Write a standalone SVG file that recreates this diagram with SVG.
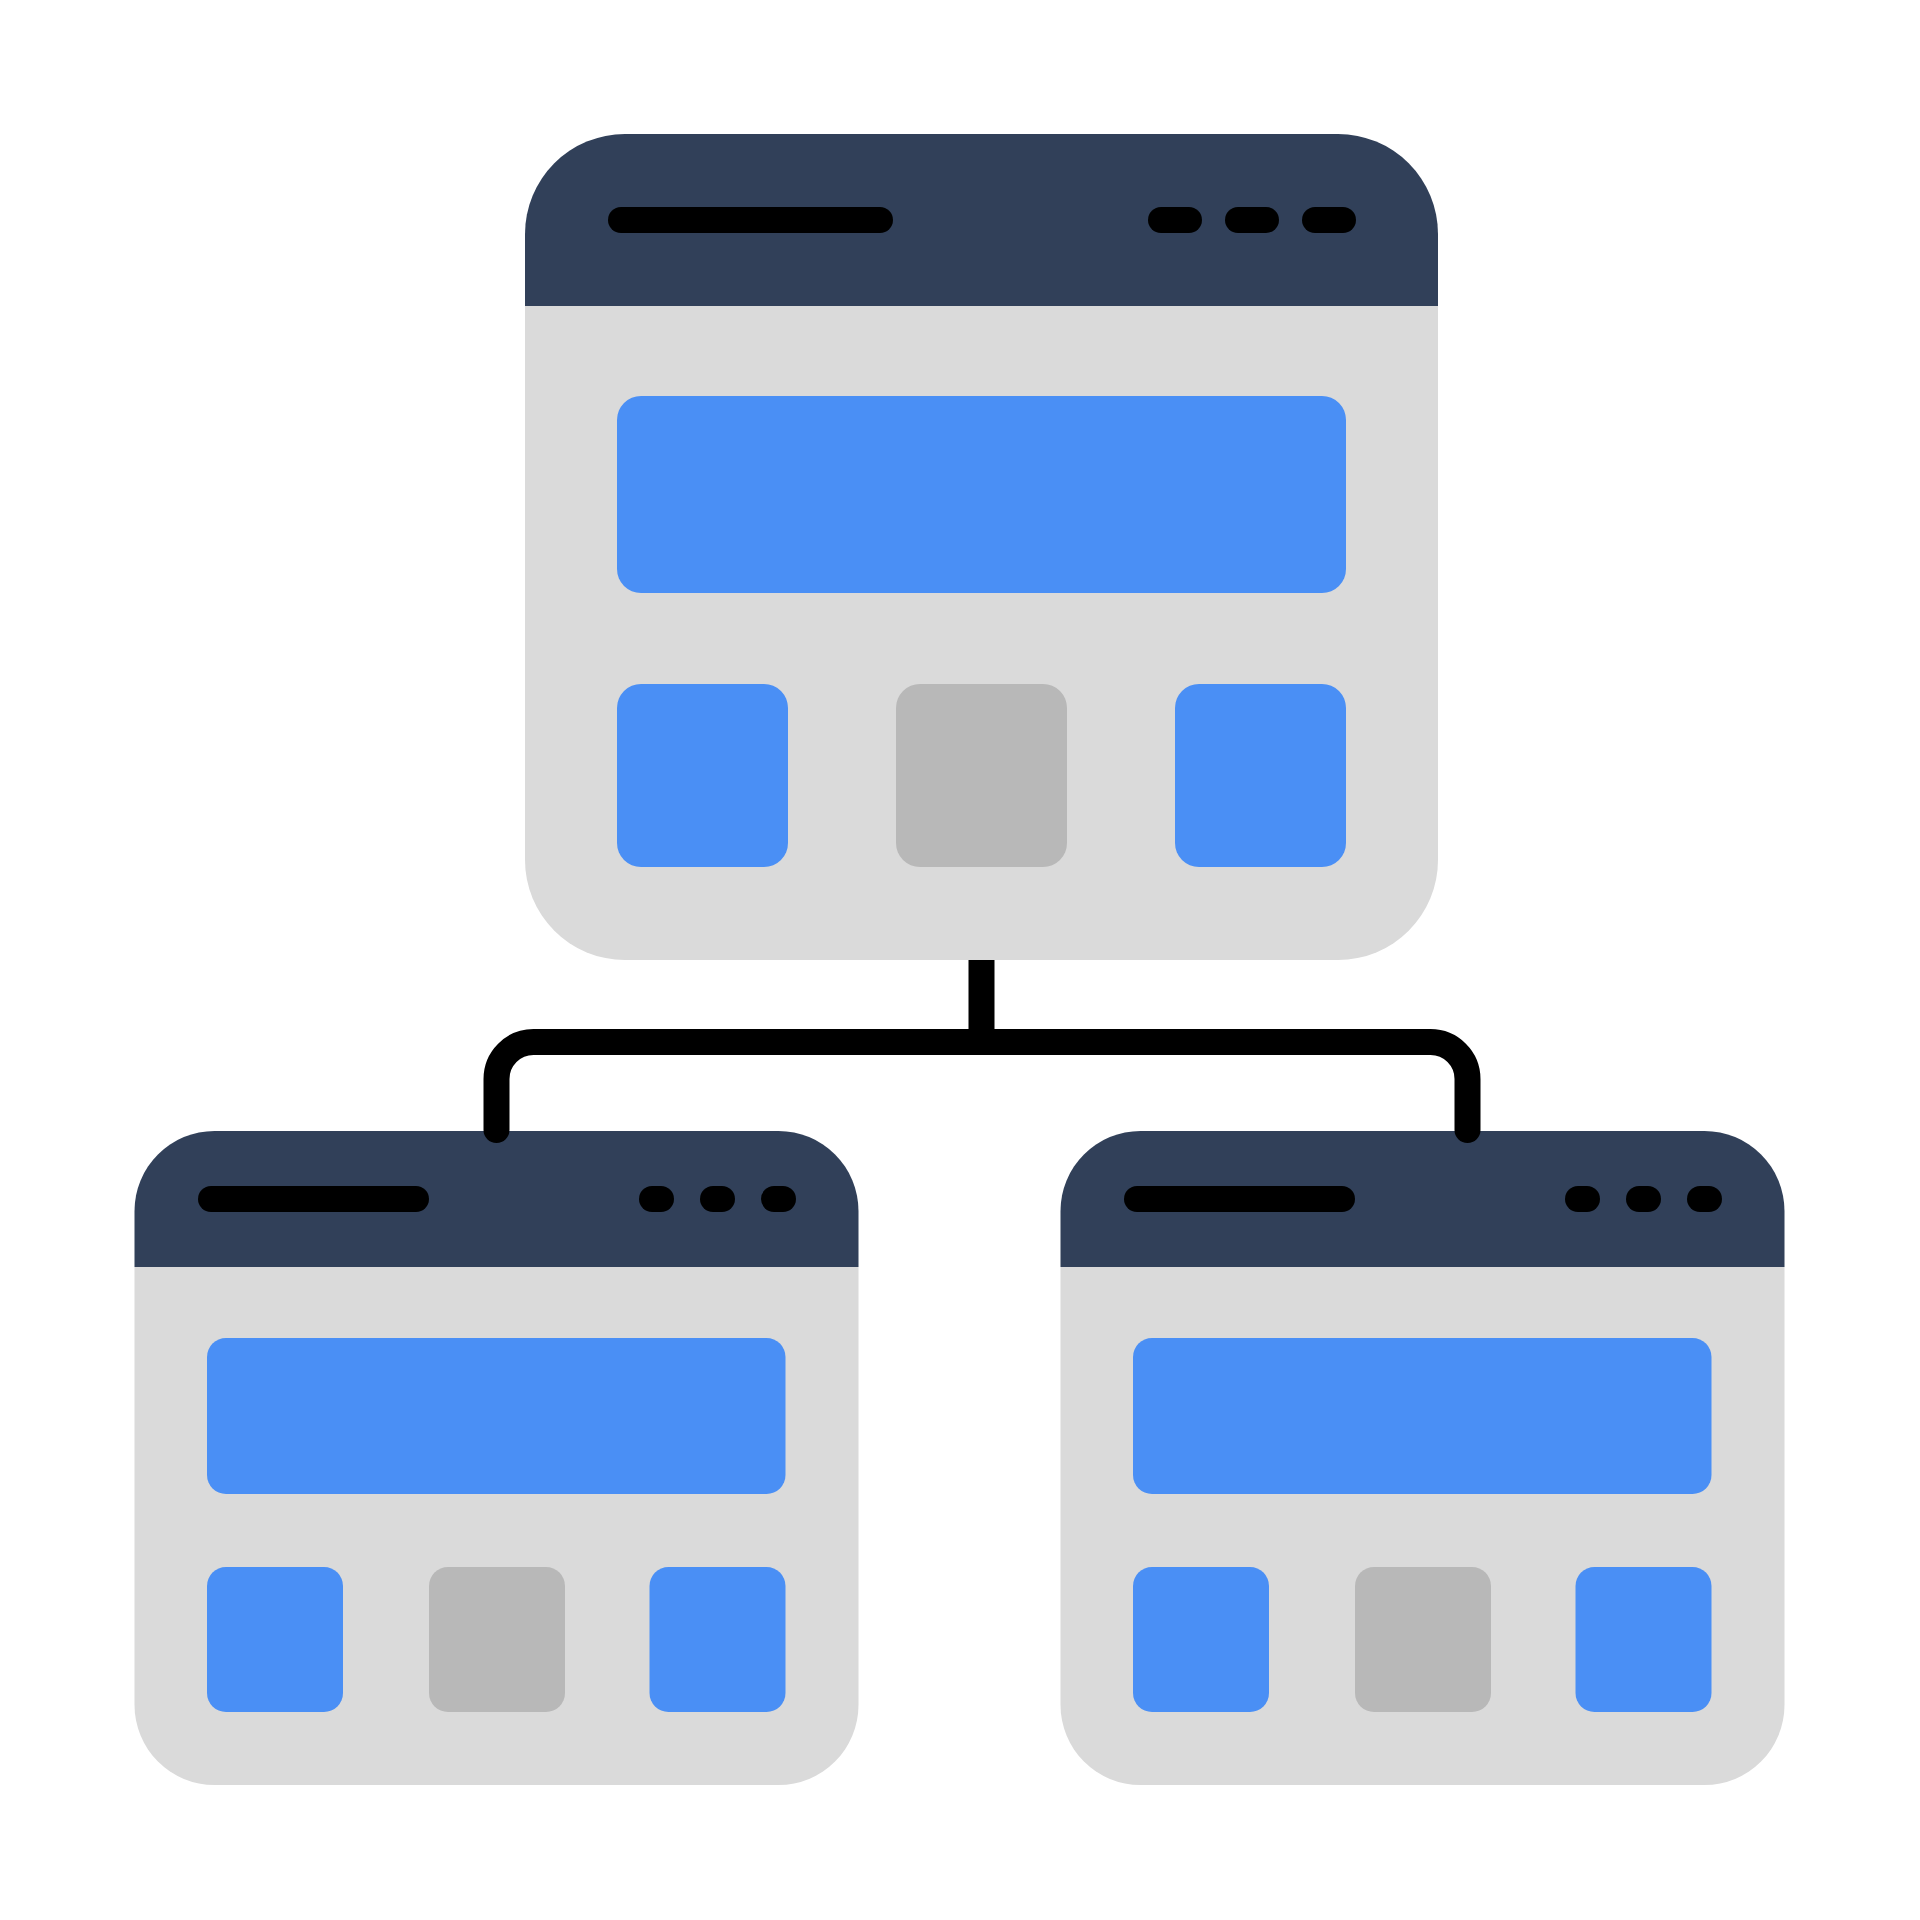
<svg xmlns="http://www.w3.org/2000/svg" width="1920" height="1920" viewBox="0 0 1920 1920">
<style>
.body{fill:#dadada}
.head{fill:#314059}
.bar{fill:#000}
.blue{fill:#4a8ff5}
.gray{fill:#b8b8b8}
.conn{fill:none;stroke:#000;stroke-width:26}
</style>
<rect width="1920" height="1920" fill="#fff"/>
<g id="top-window">
<path class="body" d="M525 306 H1438 V860 A100 100 0 0 1 1338 960 H625 A100 100 0 0 1 525 860 Z"/>
<path class="head" d="M525 306 V234 A100 100 0 0 1 625 134 H1338 A100 100 0 0 1 1438 234 V306 Z"/>
<rect class="bar" x="608" y="207" width="285" height="26" rx="13"/>
<rect class="bar" x="1148" y="207" width="54" height="26" rx="13"/>
<rect class="bar" x="1225" y="207" width="54" height="26" rx="13"/>
<rect class="bar" x="1302" y="207" width="54" height="26" rx="13"/>
<rect class="blue" x="617" y="396" width="729" height="197" rx="24"/>
<rect class="blue" x="617" y="684" width="171" height="183" rx="24"/>
<rect class="gray" x="896" y="684" width="171" height="183" rx="24"/>
<rect class="blue" x="1175" y="684" width="171" height="183" rx="24"/>
</g>
<g id="left-window">
<path class="body" d="M134.5 1267 H858.5 V1705 A80 80 0 0 1 778.5 1785 H214.5 A80 80 0 0 1 134.5 1705 Z"/>
<path class="head" d="M134.5 1267 V1211 A80 80 0 0 1 214.5 1131 H778.5 A80 80 0 0 1 858.5 1211 V1267 Z"/>
<rect class="bar" x="198" y="1186" width="231" height="26" rx="13"/>
<rect class="bar" x="639" y="1186" width="35" height="26" rx="13"/>
<rect class="bar" x="700" y="1186" width="35" height="26" rx="13"/>
<rect class="bar" x="761" y="1186" width="35" height="26" rx="13"/>
<rect class="blue" x="207" y="1338" width="578.5" height="156" rx="19"/>
<rect class="blue" x="207" y="1567" width="136" height="145" rx="19"/>
<rect class="gray" x="429" y="1567" width="136" height="145" rx="19"/>
<rect class="blue" x="649.5" y="1567" width="136" height="145" rx="19"/>
</g>
<g id="right-window" transform="translate(926 0)">
<path class="body" d="M134.5 1267 H858.5 V1705 A80 80 0 0 1 778.5 1785 H214.5 A80 80 0 0 1 134.5 1705 Z"/>
<path class="head" d="M134.5 1267 V1211 A80 80 0 0 1 214.5 1131 H778.5 A80 80 0 0 1 858.5 1211 V1267 Z"/>
<rect class="bar" x="198" y="1186" width="231" height="26" rx="13"/>
<rect class="bar" x="639" y="1186" width="35" height="26" rx="13"/>
<rect class="bar" x="700" y="1186" width="35" height="26" rx="13"/>
<rect class="bar" x="761" y="1186" width="35" height="26" rx="13"/>
<rect class="blue" x="207" y="1338" width="578.5" height="156" rx="19"/>
<rect class="blue" x="207" y="1567" width="136" height="145" rx="19"/>
<rect class="gray" x="429" y="1567" width="136" height="145" rx="19"/>
<rect class="blue" x="649.5" y="1567" width="136" height="145" rx="19"/>
</g>
<g id="connectors">
<path class="conn" d="M981.5 960 V1042" stroke-linecap="butt"/>
<path class="conn" stroke-linecap="round" d="M496.5 1130 V1079 A37 37 0 0 1 533.5 1042 H1430.5 A37 37 0 0 1 1467.5 1079 V1130"/>
</g>
</svg>
